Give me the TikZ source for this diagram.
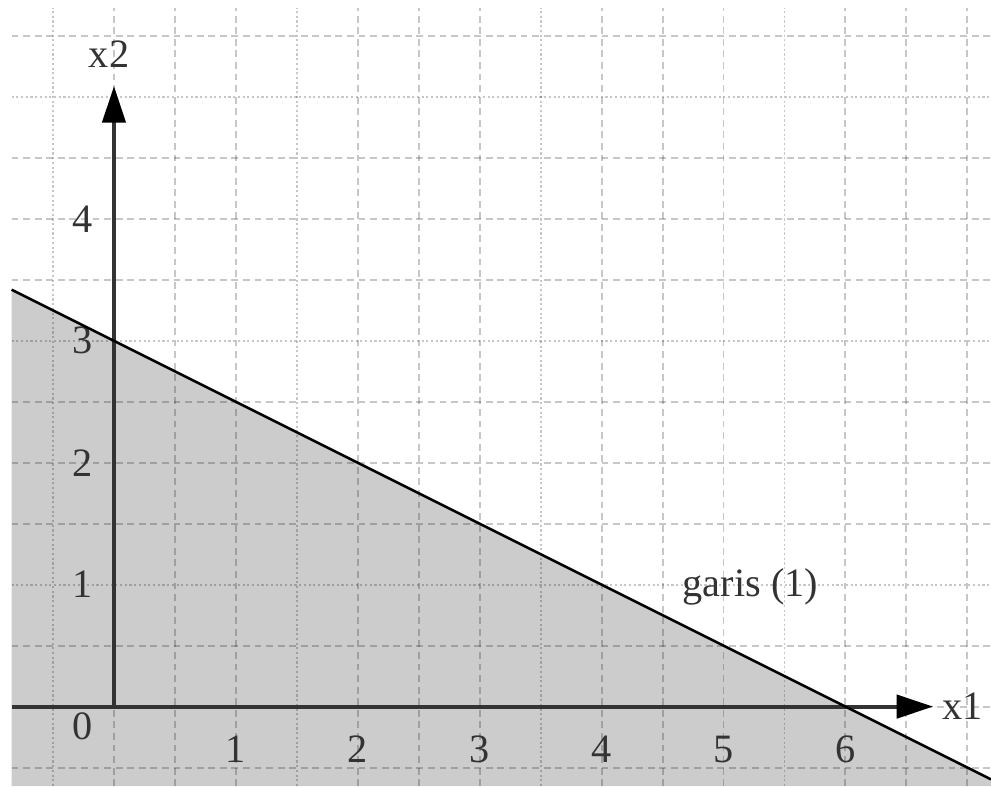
\documentclass[tikz,border=0pt]{standalone}
\usepackage{fontspec}
\setmainfont{Liberation Serif}
\usetikzlibrary{arrows.meta}

\begin{document}
\begin{tikzpicture}[>={Triangle[length=3mm,width=1.9mm,color=black]},
        font=\fontsize{9.4}{11}\selectfont,
        gridline/.style={black, draw opacity=0.22, line width=0.45pt},
        dashgrid/.style={gridline, dash pattern=on 1.6pt off 1.1pt},
        dotgrid/.style={gridline, dash pattern=on 0.5pt off 0.6pt},
        axis/.style={->, black!80, line width=0.9pt},
        lbl/.style={text=black!80}]
        \useasboundingbox (-0.935,-0.652) rectangle (7.194,5.796);

        % Region below garis (1)
        \fill[black!20] (-0.84,3.42) -- (7.194,-0.597) -- (7.194,-0.652) -- (-0.84,-0.652) -- cycle;

        % Grid
        \foreach \x in {0,0.5,1,2,2.5,3,4,4.5,5,6,6.5,7}
            \draw[dashgrid] (\x,-0.652) -- (\x,5.73);
        \foreach \x in {-0.5,1.5,3.5,5.5}
            \draw[dotgrid] (\x,-0.652) -- (\x,5.73);
        \foreach \y in {-0.5,0,0.5,1.5,2,2.5,3.5,4,4.5,5.5}
            \draw[dashgrid] (-0.84,\y) -- (7.194,\y);
        \foreach \y in {1,3,5}
            \draw[dotgrid] (-0.84,\y) -- (7.194,\y);

        % Axes
        \coordinate (xstart) at (-0.84,0);
        \coordinate (O) at (0,0);
        \coordinate (xend) at (6.72,0);
        \coordinate (yend) at (0,5.09);
        \draw[axis] (xstart) -- (xend);
        \draw[axis] (O) -- (yend);
        \node[lbl] (xlbl) at (6.96,0) {x1};
        \node[lbl] (ylbl) at (-0.04,5.35) {x2};

        % Tick labels
        \node[lbl] (t0) at (-0.26,-0.16) {0};
        \foreach \k in {1,...,6}
            \node[lbl] (tx\k) at (\k,-0.35) {\k};
        \foreach \k in {1,...,4}
            \node[lbl] (ty\k) at (-0.26,\k) {\k};

        % garis (1)
        \coordinate (gstart) at (-0.84,3.42);
        \coordinate (gend) at (7.194,-0.597);
        \draw[line width=0.6pt] (gstart) -- (gend);
        \node[lbl] (garis) at (5.22,0.98) {garis (1)};
    \end{tikzpicture}
\end{document}
